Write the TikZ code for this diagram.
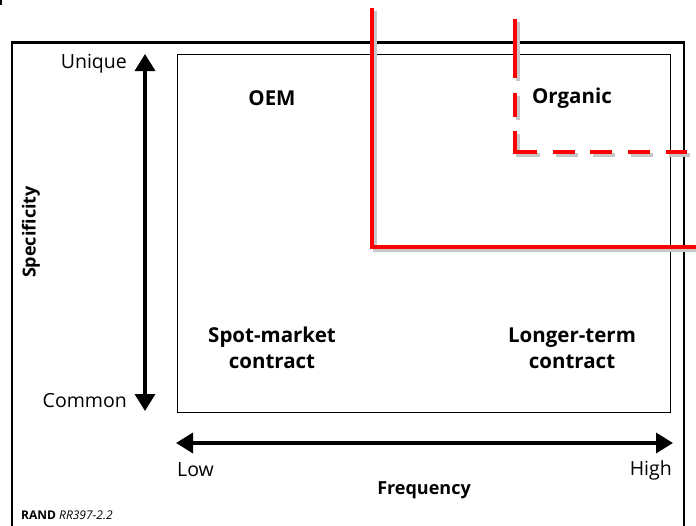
\documentclass[tikz,border=0pt]{standalone}
\usepackage{fontspec}
\setmainfont{Open Sans}
\usetikzlibrary{arrows.meta}
\begin{document}
\begin{tikzpicture}[x=1pt,y=-1pt,
  frame/.style={draw=black,line width=2.2pt},
  inner/.style={draw=black,line width=0.8pt},
  axis/.style={draw=black,line width=3.5pt,{Triangle[length=17pt,width=20pt]}-{Triangle[length=17pt,width=20pt]}},
  redsolid/.style={draw=red,line width=4pt},
  dashpat/.style={dash pattern=on 59pt off 15pt on 24pt off 14pt on 43pt off 16pt on 22pt off 15pt on 22pt off 16pt on 22pt off 16pt on 30pt},
  reddash/.style={draw=red,line width=4pt,dashpat},
  shadow/.style={draw=black!22,line width=4pt},
  lab/.style={font=\fontsize{19.5}{22}\selectfont,inner sep=0pt},
  alab/.style={font=\bfseries\fontsize{18}{22}\selectfont,inner sep=0pt,align=center},
  blab/.style={font=\bfseries\fontsize{20.5}{26}\selectfont,inner sep=0pt,align=center},
]
\useasboundingbox (0,0) rectangle (696,525);
\fill[white] (0,0) rectangle (696,525);
% small mark at top left
\draw[black,line width=1.5pt] (1,0) -- (1,5);
% outer frame (open at bottom)
\draw[frame] (12,540) -- (12,42.5) -- (684,42.5) -- (684,540);
% inner box
\draw[inner] (177,54.5) rectangle (670.5,412);
% axes
\coordinate (vtop) at (145,54);
\coordinate (vbot) at (145,411);
\draw[axis] (vtop) -- (vbot);
\coordinate (hl) at (176,443);
\coordinate (hr) at (673,443);
\draw[axis] (hl) -- (hr);
% axis labels
\node[lab,anchor=east] (unique) at (127,64) {Unique};
\node[lab,anchor=east] (common) at (127,401) {Common};
\node[alab,rotate=90] (spec) at (31,232) {Specificity};
\node[lab,anchor=west] (low) at (177,470) {Low};
\node[lab,anchor=east] (high) at (672,470) {High};
\node[alab] (freq) at (424,490) {Frequency};
\node[anchor=west,inner sep=0pt,font=\fontsize{12}{14}\selectfont] (rand) at (21,515) {\textbf{RAND} \textit{RR397-2.2}};
% quadrant labels
\node[blab] (oem) at (272,98) {OEM};
\node[blab] (org) at (572,98) {Organic};
\node[blab] (spot) at (272,348) {Spot-market\\contract};
\node[blab] (longer) at (572,348) {Longer-term\\contract};
% red solid boundary with shadow
\coordinate (s1) at (372,8);
\coordinate (s2) at (372,247);
\coordinate (s3) at (700,247);
\draw[shadow] ([shift={(3,3)}]s1) -- ([shift={(3,3)}]s2) -- ([shift={(3,3)}]s3);
\draw[redsolid] (s1) -- (s2) -- (s3);
% red dashed boundary with shadow
\coordinate (d1) at (515,19);
\coordinate (d2) at (515,152);
\coordinate (d3) at (687,152);
\draw[shadow,dashpat] ([shift={(3,3)}]d1) -- ([shift={(3,3)}]d2) -- ([shift={(3,3)}]d3);
\draw[reddash] (d1) -- (d2) -- (d3);
\end{tikzpicture}
\end{document}
